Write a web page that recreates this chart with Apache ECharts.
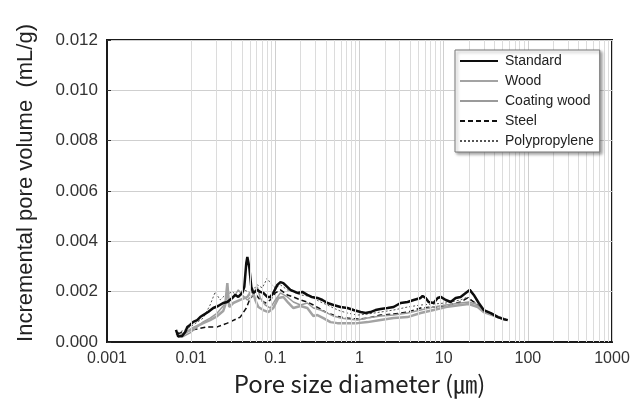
<!DOCTYPE html>
<html>
<head>
<meta charset="utf-8">
<script src="https://cdn.jsdelivr.net/npm/echarts@6/dist/echarts.min.js"></script>
<style>
  html, body { margin: 0; padding: 0; background: #fff; }
  #chart { width: 644px; height: 403px; }
</style>
</head>
<body>
<div id="chart"></div>
<script>
// pore diameter (um) / incremental pore volume (mL/g)
const standardData = [
    [0.0066, 0.00048], [0.0070, 0.00022], [0.0078, 0.00024], [0.0085, 0.0004], [0.0090, 0.0006],
    [0.0097, 0.00068], [0.0106, 0.0008], [0.0118, 0.00087], [0.0128, 0.00099], [0.0139, 0.00107],
    [0.0159, 0.00119], [0.0183, 0.00135], [0.0209, 0.00143], [0.024, 0.00155], [0.0269, 0.00159],
    [0.0308, 0.00175], [0.0334, 0.00187], [0.0363, 0.00179], [0.0405, 0.00195], [0.0428, 0.00219],
    [0.0452, 0.00314], [0.0465, 0.00338], [0.049, 0.00298], [0.0518, 0.00219], [0.0547, 0.00195],
    [0.0611, 0.00207], [0.0662, 0.00199], [0.0719, 0.00195], [0.0803, 0.00179], [0.0871, 0.00179],
    [0.0946, 0.00195], [0.1057, 0.00227], [0.115, 0.00238], [0.1245, 0.00234], [0.151, 0.00207],
    [0.183, 0.00195], [0.2095, 0.00199], [0.24, 0.00187], [0.27, 0.00179], [0.316, 0.00175],
    [0.363, 0.00167], [0.416, 0.00155], [0.49, 0.00147], [0.594, 0.00139], [0.719, 0.00135],
    [0.849, 0.00127], [1.03, 0.00119], [1.18, 0.00115], [1.35, 0.00119], [1.55, 0.00127],
    [1.78, 0.00131], [2.15, 0.00135], [2.54, 0.00139], [3.08, 0.00155], [3.73, 0.00159],
    [4.40, 0.00167], [5.32, 0.00175], [5.62, 0.00183], [6.11, 0.00175], [6.62, 0.00159],
    [7.6, 0.00155], [8.49, 0.00175], [9.21, 0.00179], [10.6, 0.00167], [12.1, 0.00159],
    [13.9, 0.00175], [15.9, 0.00179], [18.3, 0.00195], [20.4, 0.00207], [22.8, 0.00187],
    [26.1, 0.00155], [29.9, 0.00127], [36.3, 0.00115], [44, 0.00099], [51.8, 0.00091], [57.8, 0.00087]
];
const woodData = [
    [0.0070, 0.00024], [0.0085, 0.00036], [0.0106, 0.00056], [0.0139, 0.00075], [0.0168, 0.00087],
    [0.0204, 0.00103], [0.024, 0.00123], [0.0254, 0.00147], [0.0269, 0.00234], [0.0283, 0.00139],
    [0.0316, 0.00155], [0.0383, 0.00167], [0.0465, 0.00179], [0.0532, 0.00207], [0.0578, 0.00167],
    [0.0628, 0.00139], [0.0719, 0.00127], [0.0826, 0.00119], [0.0946, 0.00135], [0.1087, 0.00175],
    [0.1245, 0.00179], [0.143, 0.00155], [0.164, 0.00135], [0.199, 0.00143], [0.24, 0.00135],
    [0.283, 0.00103], [0.316, 0.00107], [0.372, 0.00095], [0.452, 0.00079], [0.547, 0.00075],
    [0.719, 0.00075], [0.946, 0.00075], [1.245, 0.00079], [1.78, 0.00087], [2.54, 0.00095],
    [3.73, 0.00099], [5.32, 0.00115], [7.6, 0.00127], [10.6, 0.00139], [15.9, 0.00147],
    [19.9, 0.00151], [25.4, 0.00139], [29.9, 0.00119], [44, 0.00099], [54.7, 0.00087]
];
const coatingWoodData = [
    [0.0066, 0.00032], [0.0078, 0.0002], [0.0097, 0.00036], [0.0118, 0.0006], [0.0139, 0.0008],
    [0.0168, 0.00095], [0.0204, 0.00115], [0.024, 0.00143], [0.0275, 0.00167], [0.0316, 0.00175],
    [0.0363, 0.00207], [0.0405, 0.00187], [0.0465, 0.00167], [0.0532, 0.00183], [0.0611, 0.00219],
    [0.0662, 0.00175], [0.076, 0.00147], [0.0871, 0.00135], [0.1, 0.00167], [0.115, 0.00195],
    [0.139, 0.00179], [0.164, 0.00159], [0.199, 0.00147], [0.24, 0.00155], [0.283, 0.00135],
    [0.344, 0.00127], [0.416, 0.00115], [0.49, 0.00103], [0.594, 0.00095], [0.719, 0.00091],
    [0.946, 0.00087], [1.245, 0.00095], [1.78, 0.00103], [2.54, 0.00107], [3.73, 0.00115],
    [5.32, 0.00127], [7.6, 0.00139], [10.6, 0.00147], [15.9, 0.00155], [19.9, 0.00159],
    [24.0, 0.00151], [29.9, 0.00127], [44, 0.00103], [54.7, 0.00091]
];
const steelData = [
    [0.0068, 0.00032], [0.0090, 0.00044], [0.0118, 0.00052], [0.0155, 0.0006], [0.0204, 0.0006],
    [0.0269, 0.00075], [0.0383, 0.00099], [0.0452, 0.00135], [0.0504, 0.00175], [0.0578, 0.00191],
    [0.0662, 0.00167], [0.076, 0.00155], [0.0871, 0.00167], [0.1, 0.00195], [0.115, 0.00207],
    [0.139, 0.00187], [0.164, 0.00179], [0.199, 0.00167], [0.24, 0.00159], [0.283, 0.00147],
    [0.344, 0.00131], [0.416, 0.00115], [0.49, 0.00107], [0.594, 0.00099], [0.719, 0.00095],
    [0.946, 0.00091], [1.245, 0.00095], [1.78, 0.00107], [2.54, 0.00111], [3.73, 0.00119],
    [5.32, 0.00135], [7.6, 0.00139], [10.6, 0.00143], [15.9, 0.00159], [19.3, 0.00175],
    [22.8, 0.00159], [29.9, 0.00123], [44, 0.00099], [54.7, 0.00087]
];
const polypropyleneData = [
    [0.0068, 0.00036], [0.0085, 0.00048], [0.0106, 0.00068], [0.0139, 0.00095], [0.0168, 0.00147],
    [0.0193, 0.00199], [0.0221, 0.00167], [0.0254, 0.00187], [0.0308, 0.00199], [0.0363, 0.00183],
    [0.0428, 0.00207], [0.0505, 0.00195], [0.0611, 0.00227], [0.070, 0.00215], [0.0803, 0.00254],
    [0.0871, 0.00234], [0.1, 0.00215], [0.115, 0.00227], [0.139, 0.00207], [0.164, 0.00199],
    [0.199, 0.00187], [0.24, 0.00183], [0.283, 0.00175], [0.344, 0.00159], [0.416, 0.00147],
    [0.49, 0.00135], [0.594, 0.00123], [0.719, 0.00115], [0.946, 0.00107], [1.245, 0.00111],
    [1.78, 0.00119], [2.54, 0.00127], [3.73, 0.00139], [5.32, 0.00147], [7.6, 0.00151],
    [10.6, 0.00155], [15.9, 0.00167], [19.3, 0.00179], [24, 0.00155], [29.9, 0.00123],
    [44, 0.00099], [54.7, 0.00087]
];

const legendNames = ['Standard', 'Wood', 'Coating wood', 'Steel', 'Polypropylene'];

// light vertical lines at 2..9 of every decade (log axis has no real minor ticks)
const minorLines = [];
for (let e = -3; e < 3; e++) {
    for (let k = 2; k <= 9; k++) {
        minorLines.push({ xAxis: Number((k * Math.pow(10, e)).toPrecision(2)) });
    }
}

const labelFont = 'Liberation Sans, Arial, sans-serif';

const myChart = echarts.init(document.getElementById('chart'));

const option = {
    backgroundColor: '#fff',
    animation: false,
    grid: {
        left: 107, right: 32, top: 40, bottom: 61,
        show: true,
        borderColor: '#1a1a1a',
        borderWidth: 2
    },
    legend: {
        data: legendNames,
        orient: 'vertical',
        left: 455, top: 50,
        z: 20,
        itemWidth: 38, itemHeight: 12, itemGap: 6,
        padding: [4, 6, 4, 4],
        backgroundColor: '#fff',
        borderColor: '#777',
        borderWidth: 1,
        shadowColor: 'rgba(0,0,0,0.35)',
        shadowBlur: 3,
        shadowOffsetX: 2,
        shadowOffsetY: 2,
        itemStyle: { opacity: 0 },
        textStyle: { fontFamily: labelFont, fontSize: 14, color: '#222', padding: [0, 0, 0, 2] }
    },
    xAxis: {
        type: 'log',
        logBase: 10,
        min: 0.001,
        max: 1000,
        name: 'Pore size diameter (㎛)',
        nameLocation: 'middle',
        nameGap: 24,
        nameTextStyle: { fontFamily: 'Noto Sans CJK KR, sans-serif', fontSize: 24, color: '#222' },
        axisLine: { show: true, lineStyle: { color: '#1a1a1a', width: 2 } },
        axisTick: { show: false },
        axisLabel: {
            fontFamily: labelFont, fontSize: 16, color: '#333', margin: 9,
            formatter: v => String(Number(v.toPrecision(1)))
        },
        splitLine: { show: true, lineStyle: { color: '#cfcfcf', width: 1 } }
    },
    yAxis: {
        type: 'value',
        min: 0,
        max: 0.012,
        interval: 0.002,
        name: 'Incremental pore volume  (mL/g)',
        nameLocation: 'middle',
        nameGap: 70,
        nameTextStyle: { fontFamily: labelFont, fontSize: 22, color: '#222', padding: [0, 0, 0, 16] },
        axisLine: { show: true, lineStyle: { color: '#1a1a1a', width: 2 } },
        axisTick: { show: true, inside: true, length: 4, lineStyle: { color: '#333' } },
        axisLabel: {
            fontFamily: labelFont, fontSize: 17, color: '#333', margin: 9,
            formatter: v => v.toFixed(3)
        },
        splitLine: { show: true, lineStyle: { color: '#cfcfcf', width: 1 } }
    },
    series: [
        {
            name: 'minor grid',
            type: 'line',
            data: [],
            z: 0,
            silent: true,
            markLine: {
                silent: true,
                symbol: 'none',
                label: { show: false },
                lineStyle: { color: '#dcdcdc', width: 1, type: 'solid' },
                data: minorLines
            }
        },
        {
            name: 'Polypropylene',
            type: 'line',
            data: polypropyleneData,
            symbol: 'none',
            lineStyle: { color: '#555', width: 1, type: [2, 2] }
        },
        {
            name: 'Steel',
            type: 'line',
            data: steelData,
            symbol: 'none',
            lineStyle: { color: '#111', width: 1.5, type: [5, 3] }
        },
        {
            name: 'Coating wood',
            type: 'line',
            data: coatingWoodData,
            symbol: 'none',
            lineStyle: { color: '#9a9a9a', width: 1.5 }
        },
        {
            name: 'Wood',
            type: 'line',
            data: woodData,
            symbol: 'none',
            lineStyle: { color: '#a3a3a3', width: 2.5 }
        },
        {
            name: 'Standard',
            type: 'line',
            data: standardData,
            symbol: 'none',
            lineStyle: { color: '#0d0d0d', width: 2.5 }
        }
    ]
};
myChart.setOption(option);
</script>
</body>
</html>
